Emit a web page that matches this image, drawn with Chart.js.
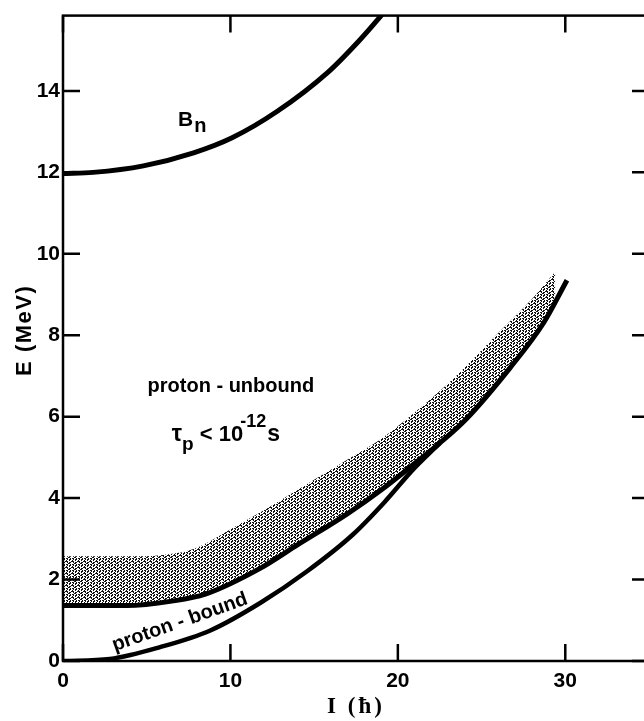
<!DOCTYPE html>
<html>
<head>
<meta charset="utf-8">
<style>
  html, body { margin: 0; padding: 0; background: #fff; overflow: hidden; }
  #wrap { width: 660px; height: 721px; }
</style>
<script src="https://cdn.jsdelivr.net/npm/chart.js@4"></script>
</head>
<body>
<div id="wrap"><canvas id="energyChart" width="660" height="721"></canvas></div>
<script>
// tick labels
const spinTicks = [0, 10, 20, 30];
const energyTicks = [0, 2, 4, 6, 8, 10, 12, 14];

// neutron binding energy B_n
const bnSpin   = [0, 1.8, 4.8, 7.8, 10.1, 12.8, 15.8, 17.7, 19.0, 19.4];
const bnEnergy = [11.97, 12.0, 12.16, 12.48, 12.85, 13.5, 14.45, 15.24, 15.85, 16.05];

// shaded band, upper edge (no line)
const bandTopSpin   = [0, 4, 5.8, 7.8, 10.5, 13, 15, 17, 19, 21, 23.1, 26.1, 28.1, 29.4];
const bandTopEnergy = [2.57, 2.57, 2.6, 2.75, 3.35, 3.95, 4.45, 4.95, 5.45, 6.1, 6.85, 8.1, 8.93, 9.56];

// shaded band, lower edge (solid line)
const bandLowSpin   = [0, 3.8, 6.5, 8.5, 11.8, 14, 17, 19, 21, 22.5, 24.1, 26.7, 28.7, 30.1];
const bandLowEnergy = [1.36, 1.36, 1.47, 1.64, 2.28, 2.85, 3.62, 4.2, 4.85, 5.35, 5.95, 7.2, 8.3, 9.35];

// proton-bound line
const boundSpin   = [0, 2.8, 5.8, 8.8, 11.8, 14.6, 17.3, 19.2, 20.9, 22.5];
const boundEnergy = [0, 0.05, 0.34, 0.75, 1.43, 2.21, 3.1, 3.9, 4.7, 5.35];

function toPoints(xs, ys) {
    return xs.map((x, i) => ({ x: x, y: ys[i] }));
}

// stippled fill like the printed screen
function makeStipple() {
    const tile = [
        'XX..X.',
        '.X.XX.',
        'X..X..',
        'XX...X',
        '.X.XX.',
        '..XX..'
    ];
    const c = document.createElement('canvas');
    c.width = 6; c.height = 6;
    const g = c.getContext('2d');
    g.fillStyle = '#fff';
    g.fillRect(0, 0, 6, 6);
    g.fillStyle = '#111';
    tile.forEach((row, j) => {
        for (let i = 0; i < row.length; i++) {
            if (row[i] === 'X') g.fillRect(i, j, 1, 1);
        }
    });
    return g.createPattern(c, 'repeat');
}

const sans = '"Liberation Sans", Arial, sans-serif';
const serif = '"Liberation Serif", "Times New Roman", serif';

function drawRuns(ctx, x, y, runs) {
    runs.forEach(r => {
        ctx.font = 'bold ' + r.size + 'px ' + sans;
        ctx.fillText(r.text, x + (r.dx || 0), y + (r.dy || 0));
        x += ctx.measureText(r.text).width + (r.dx || 0);
    });
}

const frameAndLabels = {
    id: 'frameAndLabels',
    afterDatasetsDraw(chart) {
        const { ctx, chartArea: a, scales: { x, y } } = chart;
        ctx.save();
        ctx.strokeStyle = '#000';
        ctx.lineWidth = 2.5;
        ctx.strokeRect(a.left, a.top, a.right - a.left, a.bottom - a.top);

        // inward ticks on all four sides
        ctx.beginPath();
        spinTicks.forEach(v => {
            const px = x.getPixelForValue(v);
            ctx.moveTo(px, a.bottom); ctx.lineTo(px, a.bottom - 17);
            ctx.moveTo(px, a.top); ctx.lineTo(px, a.top + 17);
        });
        energyTicks.forEach(v => {
            const py = y.getPixelForValue(v);
            ctx.moveTo(a.left, py); ctx.lineTo(a.left + 17, py);
            ctx.moveTo(a.right, py); ctx.lineTo(a.right - 17, py);
        });
        ctx.stroke();

        ctx.fillStyle = '#000';
        ctx.textAlign = 'left';
        ctx.textBaseline = 'alphabetic';

        // B_n
        drawRuns(ctx, x.getPixelForValue(6.87), y.getPixelForValue(13.13), [
            { text: 'B', size: 21 },
            { text: 'n', size: 20, dy: 6, dx: 1 }
        ]);

        // proton - unbound
        ctx.font = 'bold 20px ' + sans;
        ctx.fillText('proton - unbound', x.getPixelForValue(5.05), y.getPixelForValue(6.6));

        // tau_p < 10^-12 s
        drawRuns(ctx, x.getPixelForValue(6.5), y.getPixelForValue(5.4), [
            { text: 'τ', size: 23 },
            { text: 'p', size: 19, dy: 9 },
            { text: ' < 10', size: 22 },
            { text: '-12', size: 18, dy: -14, dx: -3 },
            { text: 's', size: 23, dx: 1 }
        ]);

        // proton - bound (rotated along the curve)
        ctx.save();
        ctx.translate(x.getPixelForValue(6.98), y.getPixelForValue(0.95));
        ctx.rotate(-19.5 * Math.PI / 180);
        ctx.textAlign = 'center';
        ctx.textBaseline = 'middle';
        ctx.font = 'bold 20px ' + sans;
        ctx.fillText('proton - bound', 0, 0);
        ctx.restore();

        // axis titles
        ctx.save();
        ctx.letterSpacing = '1.5px';
        ctx.font = 'bold 22px ' + sans;
        ctx.textAlign = 'center';
        ctx.textBaseline = 'middle';
        ctx.translate(25, (a.top + a.bottom) / 2 - 8);
        ctx.rotate(-Math.PI / 2);
        ctx.fillText('E (MeV)', 0, 0);
        ctx.restore();

        ctx.save();
        ctx.letterSpacing = '3px';
        ctx.font = 'bold 23px ' + serif;
        ctx.textAlign = 'center';
        ctx.textBaseline = 'middle';
        ctx.fillText('I (ħ)', x.getPixelForValue(17.5), 707);
        ctx.restore();

        ctx.restore();
    }
};

const stipple = makeStipple();

new Chart(document.getElementById('energyChart'), {
    type: 'scatter',
    data: {
        datasets: [
            {
                label: 'band',
                data: toPoints(bandTopSpin, bandTopEnergy),
                showLine: true,
                borderWidth: 0,
                borderColor: 'rgba(0,0,0,0)',
                backgroundColor: stipple,
                fill: '+1',
                pointRadius: 0,
                cubicInterpolationMode: 'monotone'
            },
            {
                label: 'unbound limit',
                data: toPoints(bandLowSpin, bandLowEnergy),
                showLine: true,
                borderColor: '#000',
                borderWidth: 5,
                fill: false,
                pointRadius: 0,
                cubicInterpolationMode: 'monotone'
            },
            {
                label: 'proton - bound',
                data: toPoints(boundSpin, boundEnergy),
                showLine: true,
                borderColor: '#000',
                borderWidth: 4.5,
                fill: false,
                pointRadius: 0,
                cubicInterpolationMode: 'monotone'
            },
            {
                label: 'Bn',
                data: toPoints(bnSpin, bnEnergy),
                showLine: true,
                borderColor: '#000',
                borderWidth: 5,
                fill: false,
                pointRadius: 0,
                cubicInterpolationMode: 'monotone'
            }
        ]
    },
    options: {
        responsive: false,
        animation: false,
        devicePixelRatio: 1,
        layout: { padding: { top: 8, right: 11, left: 0, bottom: 0 } },
        plugins: {
            legend: { display: false },
            tooltip: { enabled: false },
            filler: { drawTime: 'beforeDatasetsDraw' }
        },
        scales: {
            x: {
                type: 'linear',
                min: 0,
                max: 35,
                afterBuildTicks: s => { s.ticks = spinTicks.map(v => ({ value: v })); },
                afterFit: s => { s.height = 60; },
                grid: { display: false, drawTicks: false },
                border: { display: false },
                ticks: {
                    color: '#000',
                    padding: 8,
                    font: { family: sans, size: 21, weight: 'bold' }
                }
            },
            y: {
                type: 'linear',
                min: 0,
                max: 15.85,
                afterBuildTicks: s => { s.ticks = energyTicks.map(v => ({ value: v })); },
                afterFit: s => { s.width = 63; },
                grid: { display: false, drawTicks: false },
                border: { display: false },
                ticks: {
                    color: '#000',
                    padding: 3,
                    font: { family: sans, size: 21, weight: 'bold' }
                }
            }
        }
    },
    plugins: [frameAndLabels]
});
</script>
</body>
</html>
